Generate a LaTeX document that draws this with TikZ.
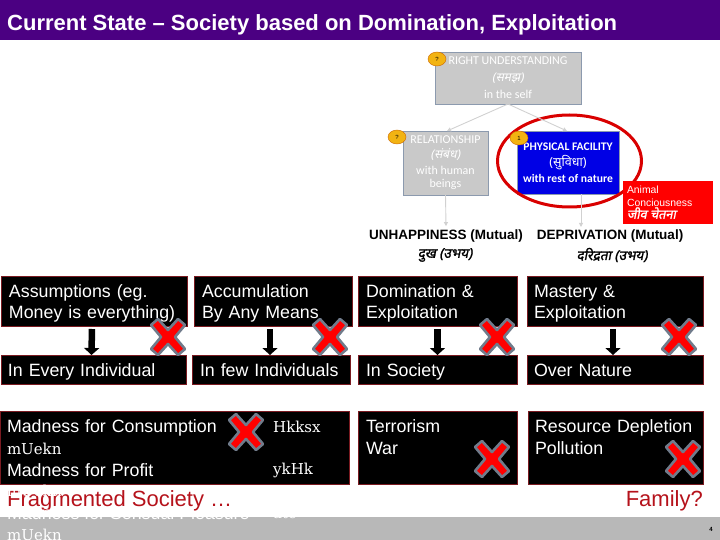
\documentclass[tikz,border=0pt]{standalone}
\usepackage{fontspec}
\setmainfont{Liberation Sans}
\newfontfamily\hindifont[Script=Devanagari]{Noto Sans}
\newfontfamily\hindibold[Script=Devanagari,FakeBold=1.5,FakeSlant=0.2]{Noto Sans}
\newfontfamily\hindislant[Script=Devanagari,FakeSlant=0.2]{Noto Sans}
\newfontfamily\calfont{Carlito}
\newfontfamily\legacyfont{DejaVu Serif}
\usetikzlibrary{positioning,arrows.meta,shapes.geometric}
\definecolor{titlepurple}{HTML}{4B0082}
\definecolor{footgray}{HTML}{B8B8B8}
\definecolor{boxgray}{HTML}{C9C9C9}
\definecolor{boxedge}{HTML}{8C9AAE}
\definecolor{darkred}{HTML}{B5121B}
\definecolor{edgered}{HTML}{7A1A20}
\definecolor{badge}{HTML}{F2B312}
\tikzset{
  blackbox/.style={draw=edgered, fill=black, text=white, outer sep=0pt, inner xsep=7pt, inner ysep=0pt, align=left, anchor=north west, font=\fontsize{17.8}{21.8}\selectfont, execute at begin node={\rule{0pt}{20pt}}, execute at end node={\rule[-6pt]{0pt}{1pt}}},
  graybox/.style={draw=boxedge, fill=boxgray, text=white, outer sep=0pt, inner sep=0pt, align=center, font=\calfont\fontsize{12}{15}\selectfont},
  tagnode/.style={draw=orange!80!black, fill=badge, ellipse, inner sep=0pt, minimum width=18pt, minimum height=14pt, font=\fontsize{6}{6}\selectfont},
  thinarrow/.style={draw=black!18, line width=0.9pt, -{Triangle[width=4pt,length=4pt]}},
  fatarrow/.style={line width=6.5pt, -{Triangle[width=15pt,length=7pt]}, shorten <=3pt},
  legacytext/.style={anchor=west, inner sep=0pt, text=white, font=\legacyfont\fontsize{15}{18}\selectfont},
  redtext/.style={inner sep=0pt, text=darkred, font=\fontsize{22}{24}\selectfont},
  crossmark/.pic={
    \draw [draw=boxedge!80!black, fill=red, line width=2.6pt, line join=round] (0,7pt) -- (10pt,18pt) -- (17pt,12pt) -- (7pt,0) -- (17pt,-12pt) -- (10pt,-18pt) -- (0,-7pt) -- (-10pt,-18pt) -- (-17pt,-12pt) -- (-7pt,0) -- (-17pt,12pt) -- (-10pt,18pt) -- cycle;
  }
}
\begin{document}
\begin{tikzpicture}[x=1pt, y=-1pt]

\useasboundingbox (0,0) rectangle (720,540);

\fill [titlepurple] (0,0) rectangle (720,40);
\node [anchor=west, text=white, inner sep=0pt, font=\fontsize{22}{24}\selectfont\bfseries] (title) at (7,25) {Current State – Society based on Domination, Exploitation};

\fill [footgray] (0,517) rectangle (720,540);

\node [graybox, minimum width=146pt, minimum height=52pt, anchor=north west] (understanding) at (435,52) {RIGHT UNDERSTANDING\\[2pt]{\hindislant (समझ)}\\[2pt]in the self};
\node [graybox, minimum width=85pt, minimum height=64pt, anchor=north west] (relationship) at (403,131) {RELATIONSHIP\\[0pt]{\hindislant (संबंध)}\\[1pt]with human\\[-2pt]beings};
\node [draw=boxedge, fill=blue!90!black, text=white, outer sep=0pt, inner sep=0pt, align=center, minimum width=102pt, minimum height=63pt, anchor=north west, font=\calfont\bfseries\fontsize{11.6}{15}\selectfont] (facility) at (517,131) {PHYSICAL FACILITY\\[1pt]{\hindifont\fontsize{12.5}{15}\selectfont (सुविधा)}\\[1pt]with rest of nature};

\draw [red!85!black, line width=3pt] (569.5,161) ellipse [x radius=72, y radius=46];

\node [fill=red, text=white, outer sep=0pt, inner sep=0pt, text width=82pt, inner xsep=4pt, align=left, minimum height=43pt, anchor=north west, font=\fontsize{10.4}{12.5}\selectfont] (animal) at (623,181) {Animal\\Conciousness\\{\hindibold\fontsize{12.7}{14}\selectfont जीव चेतना}};

\node [tagnode] (tag_understanding) at (437,59) {?};
\node [tagnode] (tag_relationship) at (397,137) {?};
\node [tagnode] (tag_facility) at (519,138) {1};

\node [font=\fontsize{13.5}{15}\selectfont\bfseries] (unhappiness) at (446,236) {UNHAPPINESS (Mutual)};
\node [font=\fontsize{13.5}{15}\selectfont\bfseries] (deprivation) at (610,236) {DEPRIVATION (Mutual)};
\node [font=\hindibold\fontsize{13.5}{15}\selectfont] (dukh) at (445,255) {दुख (उभय)};
\node [font=\hindibold\fontsize{13.5}{15}\selectfont] (daridrata) at (612,255) {दरिद्रता (उभय)};

\coordinate (facility_out) at (581,194);
\coordinate (deprivation_in) at (581,227);
\coordinate (relationship_in) at (447,131);
\coordinate (facility_in) at (567,131);

\draw [thinarrow] (understanding.south) -- (relationship_in);
\draw [thinarrow] (understanding.south) -- (facility_in);
\draw [thinarrow] (relationship.south) -- (unhappiness.north);
\draw [thinarrow] (facility_out) -- (deprivation_in);

\node [blackbox, text width=170pt, minimum height=50pt, inner xsep=8pt] (assume) at (1,276) {Assumptions (eg.\\Money is everything)};
\node [blackbox, text width=142pt, minimum height=50pt, inner xsep=8pt] (accumulate) at (194,276) {Accumulation\\By Any Means};
\node [blackbox, text width=143pt, minimum height=50pt, inner xsep=8pt] (dominate) at (358,276) {Domination \&\\Exploitation};
\node [blackbox, text width=162pt, minimum height=50pt] (mastery) at (527,276) {Mastery \&\\Exploitation};

\node [blackbox, text width=171pt, minimum height=29pt] (individual) at (1,355) {In Every Individual};
\node [blackbox, text width=142pt, minimum height=29pt, inner xsep=8pt] (few) at (192,355) {In few Individuals};
\node [blackbox, text width=143pt, minimum height=29pt, inner xsep=8pt] (society) at (358,355) {In Society};
\node [blackbox, text width=162pt, minimum height=29pt] (nature) at (527,355) {Over Nature};

\node [blackbox, text width=335pt, minimum height=73pt] (madness) at (0,411) {Madness for Consumption\\{\legacyfont\fontsize{15}{21.8}\selectfont mUekn}\\Madness for Profit};
\node [legacytext] (bhog) at (273,427) {Hkksx};
\node [legacytext] (labh) at (273,470) {ykHk};
\node [blackbox, text width=143pt, minimum height=73pt, inner xsep=8pt] (terror) at (358,411) {Terrorism\\War\\~};
\node [blackbox, text width=161pt, minimum height=73pt] (depletion) at (528,411) {Resource Depletion\\Pollution\\~};

\draw [fatarrow] ([xshift=-2pt]assume.south) -- ([xshift=-2pt]individual.north);
\draw [fatarrow] ([xshift=-3pt]accumulate.south) -- ([xshift=-1pt]few.north);
\draw [fatarrow] (dominate.south) -- (society.north);
\draw [fatarrow] ([xshift=-2pt]mastery.south) -- ([xshift=-2pt]nature.north);

\pic at (168,337) {crossmark};
\pic at (330,337) {crossmark};
\pic at (497,337) {crossmark};
\pic at (679,337) {crossmark};
\pic at (246,432) {crossmark};
\pic at (492,459) {crossmark};
\pic at (683,459) {crossmark};

\node [redtext, anchor=west] (fragmented) at (7,501) {Fragmented Society …};
\node [redtext, anchor=east] (family) at (703,501) {Family?};

\node [legacytext] (mad_line) at (7,491) {mUekn};
\node [anchor=west, inner sep=0pt, text=white, font=\fontsize{17.8}{20}\selectfont] (sensual) at (7,513) {Madness for Sensual Pleasure};
\node [legacytext] (sensual_hi) at (273,514) {ate};
\node [legacytext] (mad_last) at (7,535) {mUekn};

\node [inner sep=0pt, font=\fontsize{6}{7}\selectfont\bfseries] (pagenum) at (711,529) {4};

\end{tikzpicture}
\end{document}
